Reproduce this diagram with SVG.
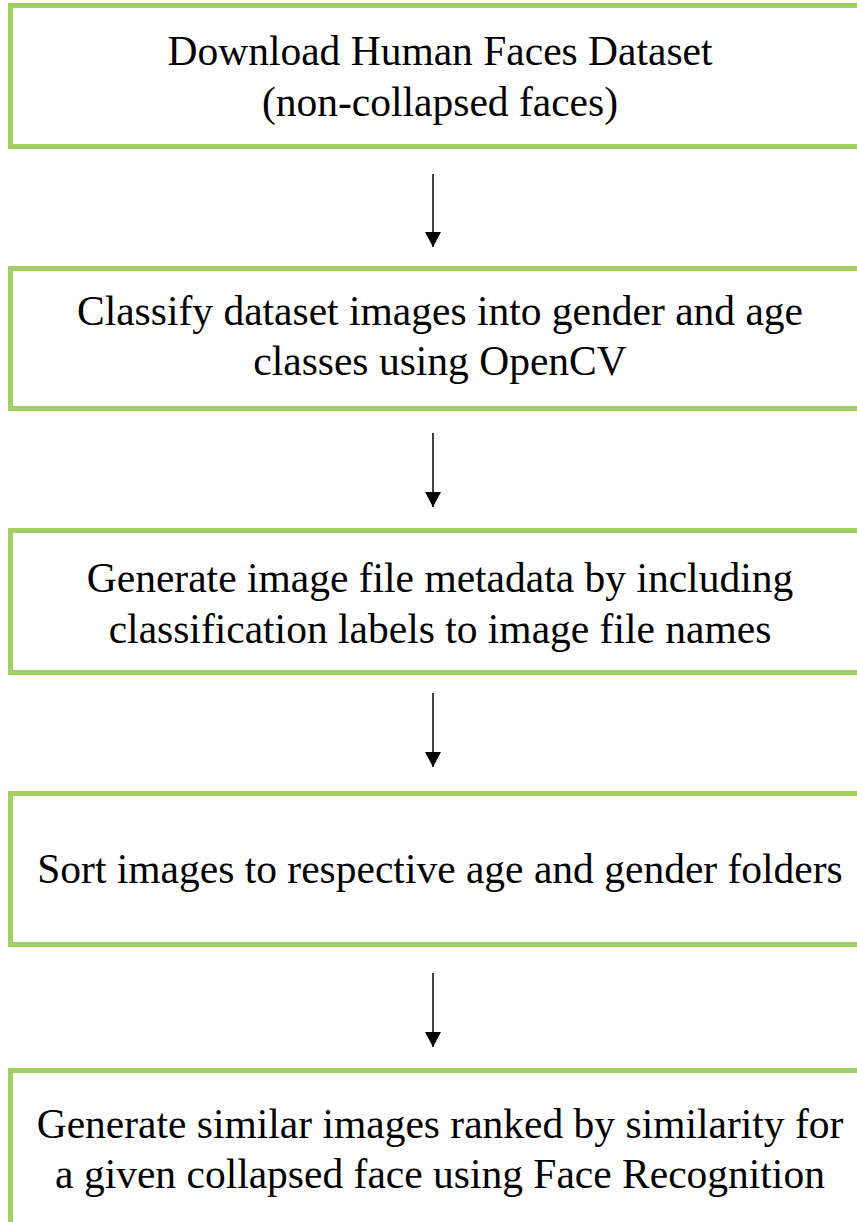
<svg xmlns="http://www.w3.org/2000/svg" width="857" height="1222" viewBox="0 0 857 1222">
<defs>
<style>
.box{fill:#ffffff;stroke:#a2d066;stroke-width:5}
.t{font-family:"Liberation Serif","Times New Roman",serif;font-size:41.5px;fill:#000;text-anchor:middle}
.c{stroke:#000;stroke-width:1.5;fill:none}
</style>
<marker id="ah" markerWidth="15" markerHeight="16" refX="15" refY="8" orient="auto" markerUnits="userSpaceOnUse" viewBox="0 0 15 16">
<path d="M0,0 L15,8 L0,16 Z" fill="#000"/>
</marker>
</defs>
<rect width="857" height="1222" fill="#fff"/>
<g id="n1"><rect class="box" x="10.5" y="5.5" width="870" height="141"/>
<text class="t" x="440" y="65">Download Human Faces Dataset</text>
<text class="t" x="440" y="116">(non-collapsed faces)</text></g>
<g id="n2"><rect class="box" x="10.5" y="268.5" width="870" height="140"/>
<text class="t" x="440" y="325">Classify dataset images into gender and age</text>
<text class="t" x="440" y="375">classes using OpenCV</text></g>
<g id="n3"><rect class="box" x="10.5" y="530.5" width="870" height="142"/>
<text class="t" x="440" y="592">Generate image file metadata by including</text>
<text class="t" x="440" y="643">classification labels to image file names</text></g>
<g id="n4"><rect class="box" x="10.5" y="793.5" width="870" height="151"/>
<text class="t" x="440" y="883">Sort images to respective age and gender folders</text></g>
<g id="n5"><rect class="box" x="10.5" y="1070.5" width="870" height="200"/>
<text class="t" x="440" y="1138">Generate similar images ranked by similarity for</text>
<text class="t" x="440" y="1188">a given collapsed face using Face Recognition</text></g>
<g id="connectors">
<line class="c" x1="433" y1="174" x2="433" y2="247" marker-end="url(#ah)"/>
<line class="c" x1="433" y1="433" x2="433" y2="507" marker-end="url(#ah)"/>
<line class="c" x1="433" y1="693" x2="433" y2="767" marker-end="url(#ah)"/>
<line class="c" x1="433" y1="973" x2="433" y2="1047" marker-end="url(#ah)"/>
</g>
</svg>
